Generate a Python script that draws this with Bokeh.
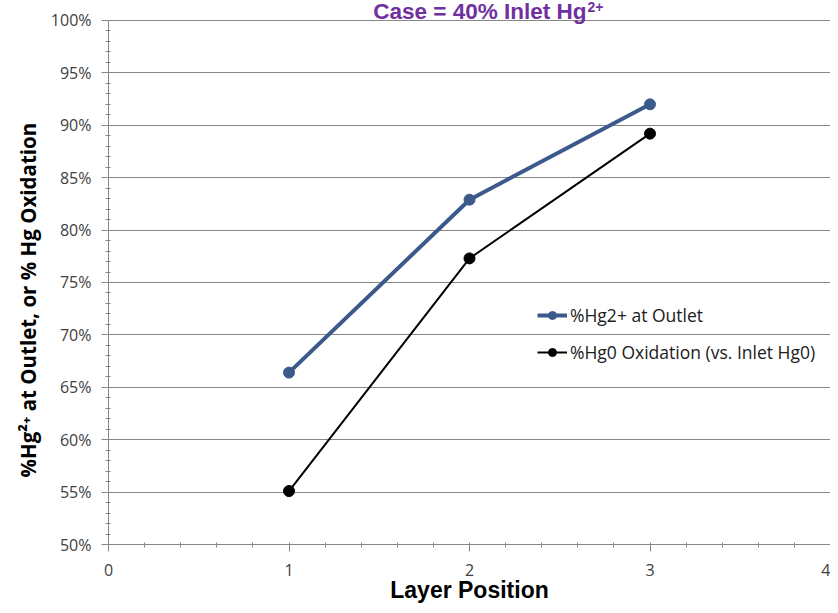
from bokeh.plotting import figure
from bokeh.models import Range1d, FixedTicker, PrintfTickFormatter, Label, Title
from bokeh.embed import file_html
from bokeh.resources import INLINE

# ---- data ----
layer_position = [1, 2, 3]
hg2_outlet = [66.4, 82.9, 92.0]
hg0_oxidation = [55.1, 77.3, 89.2]
x_ticks = [0, 1, 2, 3, 4]
y_ticks = [50, 55, 60, 65, 70, 75, 80, 85, 90, 95, 100]
series_names = ["%Hg2+ at Outlet", "%Hg0 Oxidation (vs. Inlet Hg0)"]
title_main = "Case = 40% Inlet Hg"
title_sup = "2+"
y_title = "%Hg\u00b2\u207a at Outlet, or % Hg Oxidation"
x_title = "Layer Position"

BLUE = "#3b5a8b"
GRID = "#868686"
TXT = "#404040"

# the frame reaches the top of the canvas so that the chart title (a Label) is inside it;
# the axis itself is bounded to 50..100
p = figure(width=830, height=605, output_backend="svg", toolbar_location=None,
           x_range=Range1d(0, 4), y_range=Range1d(50, 100 + 20 / 10.5),
           min_border_left=108, min_border_right=0, min_border_top=0, min_border_bottom=60)
p.outline_line_color = None
p.background_fill_color = "white"
p.border_fill_color = "white"

p.xgrid.grid_line_color = None
p.ygrid.grid_line_color = GRID
p.ygrid.grid_line_width = 1

p.xaxis.ticker = FixedTicker(ticks=x_ticks, minor_ticks=[i / 5 for i in range(0, 21)])
p.yaxis.ticker = FixedTicker(ticks=y_ticks, minor_ticks=list(range(50, 101)))
p.yaxis.formatter = PrintfTickFormatter(format="%d%%")
p.yaxis.bounds = (50, 100)

for ax in (p.xaxis[0], p.yaxis[0]):
    ax.axis_line_color = GRID
    ax.major_tick_line_color = GRID
    ax.minor_tick_line_color = GRID
    ax.major_tick_in = 0
    ax.major_tick_out = 7
    ax.minor_tick_in = 2
    ax.minor_tick_out = 3
    ax.major_label_text_font = "Open Sans"
    ax.major_label_text_font_size = "16px"
    ax.major_label_text_color = TXT

p.yaxis.major_label_standoff = 10
p.xaxis.major_label_standoff = 12

p.xaxis.axis_label = x_title
p.xaxis.axis_label_text_font = "Liberation Sans"
p.xaxis.axis_label_text_font_style = "bold"
p.xaxis.axis_label_text_font_size = "23px"
p.xaxis.axis_label_text_color = "black"
p.xaxis.axis_label_standoff = -2

# y axis title as a vertical Title on the left side
p.add_layout(Title(text=y_title, align="left", offset=67,
                   text_font="Open Sans", text_font_style="bold",
                   text_font_size="20.5px", text_color="black", standoff=12), "left")

# series
p.line(layer_position, hg2_outlet, line_color=BLUE, line_width=4, legend_label=series_names[0])
p.scatter(layer_position, hg2_outlet, size=11, fill_color=BLUE, line_color=BLUE, legend_label=series_names[0])
p.line(layer_position, hg0_oxidation, line_color="black", line_width=2, legend_label=series_names[1])
p.scatter(layer_position, hg0_oxidation, size=11, fill_color="black", line_color="black", legend_label=series_names[1])

lg = p.legend[0]
lg.location = (429, 180)
lg.background_fill_alpha = 0
lg.border_line_alpha = 0
lg.padding = 0
lg.margin = 0
lg.glyph_width = 30
lg.glyph_height = 20
lg.label_height = 20
lg.spacing = 13
lg.label_standoff = 3
lg.label_text_font = "Open Sans"
lg.label_text_font_size = "17.5px"
lg.label_text_color = "#202020"

# chart title (inside the extended frame, above the 100% line)
p.add_layout(Label(x=2.648, y=100.9, text=title_main, text_align="right",
                   text_baseline="alphabetic", text_font="Liberation Sans",
                   text_font_style="bold", text_font_size="22.5px", text_color="#7030a0"))
p.add_layout(Label(x=2.654, y=101.3, text=title_sup, text_align="left",
                   text_baseline="alphabetic", text_font="Liberation Sans",
                   text_font_style="bold", text_font_size="14px", text_color="#7030a0"))

open("out.html", "w").write(file_html(p, INLINE))
